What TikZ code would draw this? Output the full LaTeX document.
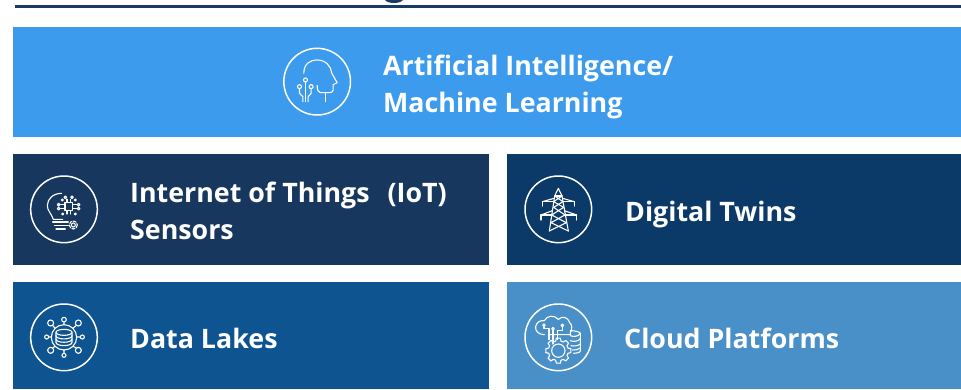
\documentclass[tikz,border=0pt]{standalone}
\usepackage{fontspec}
\setmainfont{Open Sans}
\definecolor{cTop}{HTML}{3D9BEE}
\definecolor{cIot}{HTML}{17375E}
\definecolor{cTwin}{HTML}{0B3A68}
\definecolor{cLake}{HTML}{0E5491}
\definecolor{cCloud}{HTML}{4A90C8}
\definecolor{cRule}{HTML}{1A3C64}
\tikzset{
  panel/.style={anchor=north west,inner sep=0pt,outer sep=0pt,minimum width=#1},
  label/.style={anchor=west,inner sep=0pt,text=white,align=left,font=\fontsize{26.8}{37}\selectfont\bfseries},
  ring/.style={draw=white,line width=1.5pt},
  glyph/.style={draw=white,line width=1.1pt,line cap=round,line join=round},
  icon/.style={x=0.3333pt,y=-0.3333pt}
}
\begin{document}
\begin{tikzpicture}[x=1pt,y=-1pt]
\useasboundingbox (0,0) rectangle (961,389);
\fill[white] (0,0) rectangle (961,389);
% rule and clipped descender
\fill[cRule] (385,0) .. controls (388,4) and (400,4) .. (403,0) -- cycle;
\fill[cRule] (15,5.2) rectangle (961,7.6);
% panels
\node[panel=948pt,fill=cTop,minimum height=110pt] (ai) at (13,27) {};
\node[panel=476pt,fill=cIot,minimum height=111pt] (iot) at (13,154) {};
\node[panel=454pt,fill=cTwin,minimum height=111pt] (twin) at (507,154) {};
\node[panel=476pt,fill=cLake,minimum height=107pt] (lake) at (13,282) {};
\node[panel=454pt,fill=cCloud,minimum height=107pt] (cloud) at (507,282) {};
% labels
\node[label] (tai) at (383,87) {Artificial Intelligence/\\Machine Learning};
\node[label] (tiot) at (130,211) {Internet of Things\hspace{18pt}(IoT)\\Sensors};
\node[label] (ttwin) at (625,215) {Digital Twins};
\node[label] (tlake) at (130,338) {Data Lakes};
\node[label] (tcloud) at (624,338) {Cloud Platforms};
% icon: AI head
\begin{scope}[shift={(270.5,40)},icon]
\draw[ring] (140,125) circle[radius=100];
\draw[glyph] (100,100) .. controls (100,72) and (118,60) .. (140,60) .. controls (165,60) and (182,78) .. (184,100) -- (200,128) -- (188,134) -- (188,150) .. controls (188,156) and (182,158) .. (176,158) -- (150,158) .. controls (143,158) and (140,150) .. (140,136);
\draw[glyph] (165,158) -- (165,185);
\draw[glyph] (105,120) circle[radius=6] (87,140) circle[radius=6] (122,140) circle[radius=6];
\draw[glyph] (105,126) -- (105,185);
\draw[glyph] (87,146) -- (87,160) -- (97,170) -- (97,185);
\draw[glyph] (122,146) -- (122,160) -- (113,170) -- (113,185);
\end{scope}
% icon: bulb with chip
\begin{scope}[shift={(20,170)},icon]
\draw[ring] (132,118) circle[radius=100];
\draw[glyph] (125,70) .. controls (100,70) and (82,86) .. (82,107) .. controls (82,122) and (94,130) .. (100,148) -- (128,148);
\draw[glyph] (98,156) -- (145,156) (103,166) -- (145,166) (108,177) -- (136,177);
\draw[glyph] (135,98) rectangle (158,122);
\draw[glyph] (141,98) -- (141,88) (152,98) -- (152,88) (141,122) -- (141,132) (152,122) -- (152,132) (135,104) -- (122,104) (135,116) -- (122,116) (158,104) -- (170,104) (158,116) -- (170,116);
\draw[glyph] (136,82) circle[radius=4] (156,82) circle[radius=4] (127,90) circle[radius=3] (166,90) circle[radius=3] (116,104) circle[radius=4] (176,104) circle[radius=4] (116,116) circle[radius=4] (176,116) circle[radius=4] (128,132) circle[radius=3] (166,132) circle[radius=3];
\draw[glyph] (160,165) circle[radius=6];
\draw[glyph,dash pattern=on 3pt off 1.6pt] (160,165) circle[radius=12];
\end{scope}
% icon: pylon
\begin{scope}[shift={(515,170)},icon]
\draw[ring] (130,118) circle[radius=100];
\draw[glyph] (130,55) -- (119,78) -- (103,183) (130,55) -- (141,78) -- (160,183);
\draw[glyph] (119,78) -- (141,78);
\draw[glyph] (116,95) -- (82,95) -- (82,108) (144,95) -- (178,95) -- (178,108);
\draw[glyph] (82,95) -- (117,85) (178,95) -- (143,85);
\draw[glyph] (110,135) -- (78,135) -- (78,150) (150,135) -- (185,135) -- (185,150);
\draw[glyph] (78,135) -- (112,122) (185,135) -- (148,122);
\draw[glyph] (119,78) -- (144,95) -- (116,112) -- (150,135) -- (108,158) -- (160,183);
\draw[glyph] (141,78) -- (116,95) -- (146,112) -- (110,135) -- (154,158) -- (103,183);
\end{scope}
% icon: data lake
\begin{scope}[shift={(20,298)},icon]
\draw[ring] (132,118) circle[radius=100];
\draw[glyph] (132,118) circle[radius=38];
\draw[glyph] (108,103) -- (108,133) .. controls (108,146) and (156,146) .. (156,133) -- (156,103);
\draw[glyph] (132,103) ellipse[x radius=24,y radius=9];
\draw[glyph] (108,113) .. controls (108,126) and (156,126) .. (156,113);
\draw[glyph] (108,123) .. controls (108,136) and (156,136) .. (156,123);
\draw[glyph] (132,65) circle[radius=7] (92,75) circle[radius=9] (175,75) circle[radius=9] (80,117) circle[radius=6] (187,117) circle[radius=6] (92,157) circle[radius=9] (175,157) circle[radius=9] (132,172) circle[radius=6];
\draw[glyph] (132,72) -- (132,80) (98,82) -- (105,91) (169,82) -- (159,91) (86,117) -- (94,117) (181,117) -- (170,117) (98,150) -- (105,145) (169,150) -- (159,145) (132,166) -- (132,156);
\end{scope}
% icon: cloud platform
\begin{scope}[shift={(515,298)},icon]
\draw[ring] (130,118) circle[radius=100];
\draw[glyph] (88,110) .. controls (70,110) and (60,98) .. (62,86) .. controls (64,74) and (74,66) .. (88,68) .. controls (96,52) and (118,50) .. (130,64) .. controls (142,52) and (160,58) .. (164,74) .. controls (172,78) and (172,98) .. (166,103) -- (166,110) -- (100,110);
\draw[glyph] (87,82) circle[radius=4] (114,92) circle[radius=4] (142,82) circle[radius=4];
\draw[glyph] (87,86) -- (87,92) -- (102,92) -- (102,125) (114,96) -- (114,138) (142,86) -- (142,98) -- (128,98) -- (128,125);
\draw[glyph] (166,98) .. controls (180,98) and (196,102) .. (196,106) -- (196,158) .. controls (196,164) and (185,166) .. (176,166);
\draw[glyph] (166,113) .. controls (176,117) and (190,116) .. (196,106) (166,128) .. controls (176,132) and (190,130) .. (196,122) (168,143) .. controls (175,145) and (190,144) .. (196,138) (172,156) .. controls (180,157) and (190,155) .. (196,150);
\draw[glyph] (130,158) circle[radius=20];
\foreach \a in {0,45,...,315}{
  \draw[glyph] ([shift={(130,158)}]\a-9:38) -- ([shift={(130,158)}]\a+9:38) -- ([shift={(130,158)}]\a+15:30) -- ([shift={(130,158)}]\a+30:30) -- ([shift={(130,158)}]\a+36:38);
}
\end{scope}
\end{tikzpicture}
\end{document}
